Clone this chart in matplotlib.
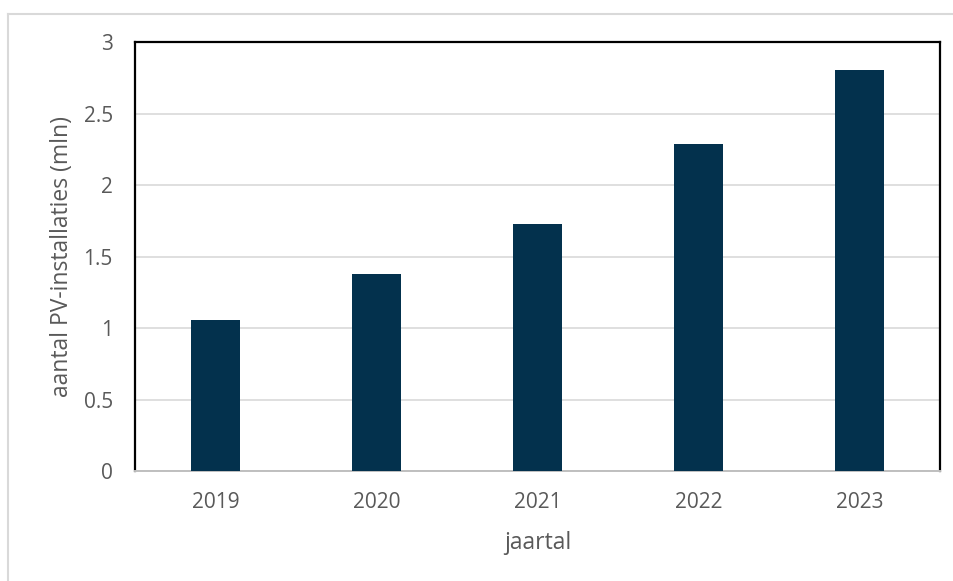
import matplotlib
matplotlib.use("Agg")
import matplotlib.pyplot as plt
from matplotlib.lines import Line2D

years = ["2019", "2020", "2021", "2022", "2023"]
installaties = [1.06, 1.38, 1.73, 2.29, 2.81]
yticks = [0, 0.5, 1, 1.5, 2, 2.5, 3]
ytick_labels = ["0", "0.5", "1", "1.5", "2", "2.5", "3"]

text_col = "#595959"
plt.rcParams["font.family"] = ["Open Sans", "DejaVu Sans"]

fig = plt.figure(figsize=(9.54, 5.81), dpi=100)
ax = fig.add_axes([0.1415, 0.1893, 0.8438, 0.7376])

x = range(len(years))
ax.bar(x, installaties, width=0.31, color="#03314D", zorder=3)

ax.set_xlim(-0.5, len(years) - 0.5)
ax.set_ylim(0, 3)
ax.set_yticks(yticks)
ax.set_yticklabels(ytick_labels)
ax.set_xticks(list(x))
ax.set_xticklabels(years)
ax.tick_params(axis="both", length=0, labelsize=15, colors=text_col)
ax.tick_params(axis="y", pad=16)
ax.tick_params(axis="x", pad=15)
ax.grid(axis="y", color="#D9D9D9", lw=1.2, zorder=0)

for side in ("left", "top", "right"):
    ax.spines[side].set_color("black")
    ax.spines[side].set_linewidth(1.6)
ax.spines["bottom"].set_color("#BFBFBF")
ax.spines["bottom"].set_linewidth(1.4)

ax.set_xlabel("jaartal", fontsize=16.5, color=text_col, labelpad=13)
ax.set_ylabel("aantal PV-installaties (mln)", fontsize=16.5, color=text_col, labelpad=7)

# outer chart border (top and left only visible)
fig.add_artist(Line2D([8 / 954, 1], [1 - 14 / 581, 1 - 14 / 581], transform=fig.transFigure,
                      color="#D9D9D9", lw=1.5))
fig.add_artist(Line2D([8 / 954, 8 / 954], [0, 1 - 14 / 581], transform=fig.transFigure,
                      color="#D9D9D9", lw=1.5))

fig.savefig("out.png", dpi=100)
